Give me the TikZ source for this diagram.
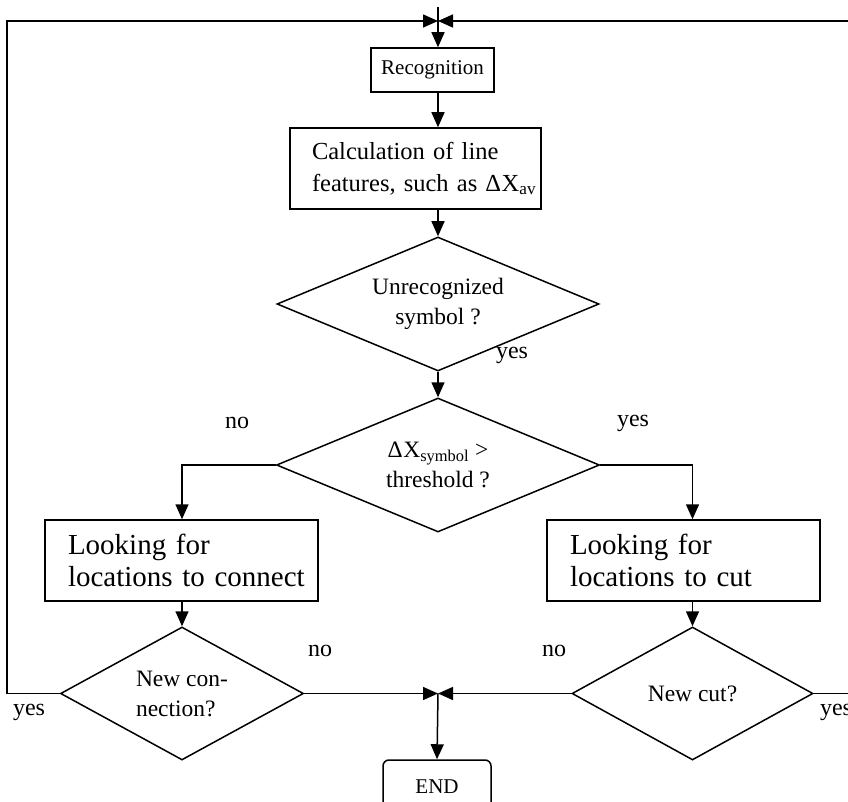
\documentclass[tikz,border=0pt]{standalone}
\usepackage{fontspec}
\setmainfont{Liberation Serif}
\usetikzlibrary{shapes.geometric,arrows.meta}
\begin{document}
\begin{tikzpicture}[x=1pt,y=-1pt,
  every node/.style={inner sep=0pt},
  arr/.style={line width=1.5pt,-{Triangle[length=15pt,width=13pt]}},
  boxnode/.style={draw,line width=1.5pt,rectangle},
  dia/.style={draw,line width=1.5pt,diamond,inner sep=0pt},
  mid/.style={font=\fontsize{23.5}{30}\selectfont},
  lab/.style={font=\fontsize{24}{28}\selectfont}]
\useasboundingbox (0,0) rectangle (848,802);
% nodes
\node[boxnode,minimum width=123,minimum height=44,font=\fontsize{21}{25}\selectfont] (rec) at (432.5,70) {Recognition};
\node[boxnode,minimum width=251,minimum height=81,font=\fontsize{24.5}{32}\selectfont,align=left,
  text width=207,inner xsep=22pt] (calc) at (415.5,168.5)
  {\mbox{Calculation of line}\\\mbox{features, such as Δ\kern0.5ptX\textsubscript{av}}};
\node[dia,aspect=2.4,minimum width=322,minimum height=134,mid,align=center] (d1) at (438,304)
  {Unrecognized\\symbol ?};
\node[dia,aspect=2.4,minimum width=323,minimum height=134,mid,align=center] (d2) at (438,465)
  {Δ\kern0.5ptX\textsubscript{symbol} >\\threshold ?};
\node[boxnode,minimum width=273,minimum height=81,font=\fontsize{29}{32}\selectfont,align=left,
  text width=227,inner xsep=23pt] (lb) at (181.5,560.5)
  {\mbox{Looking for}\\\mbox{locations to connect}};
\node[boxnode,minimum width=273,minimum height=81,font=\fontsize{29}{32}\selectfont,align=left,
  text width=227,inner xsep=23pt] (rb) at (683.5,560.5)
  {\mbox{Looking for}\\\mbox{locations to cut}};
\node[dia,aspect=1.8,minimum width=243,minimum height=133,mid,align=left] (d3) at (182,693.5)
  {New con-\\nection?};
\node[dia,aspect=1.8,minimum width=241,minimum height=133,mid] (d4) at (692.5,693.5) {New cut?};
\node[boxnode,rounded corners=6pt,minimum width=108,minimum height=54,font=\fontsize{21}{25}\selectfont] (endb) at (437,787) {END};
% junction coordinates
\coordinate (jt) at (438,21);
\coordinate (jtop) at (438,7);
\coordinate (jb) at (438,693.5);
\coordinate (ll) at (7,21);
\coordinate (rr) at (851,21);
% connectors
\draw[arr] (jtop) -- (rec.north -| jtop);
\draw[arr] (rec.south -| jtop) -- (calc.north -| jtop);
\draw[arr] (calc.south -| jtop) -- (d1.north);
\draw[arr] (d1.south) -- (d2.north);
\draw[arr] (d2.west) -| (lb.north -| d3.north);
\draw[arr] (d2.east) -| (rb.north -| d4.north);
\draw[arr] (lb.south -| d3.north) -- (d3.north);
\draw[arr] (rb.south -| d4.north) -- (d4.north);
\draw[arr] (d3.west) -| (ll) -- (jt);
\draw[arr] (d4.east) -| (rr) -- (jt);
\draw[arr] (d3.east) -- (jb);
\draw[arr] (d4.west) -- (jb);
\draw[arr] (jb) -- (endb.north);
% labels
\node[lab] (l1) at (512,355) {yes};
\node[lab] (l2) at (237,423) {no};
\node[lab] (l3) at (633,423) {yes};
\node[lab] (l4) at (320,651) {no};
\node[lab] (l5) at (554,651) {no};
\node[lab] (l6) at (29,712) {yes};
\node[lab] (l7) at (836,712) {yes};
\end{tikzpicture}
\end{document}
